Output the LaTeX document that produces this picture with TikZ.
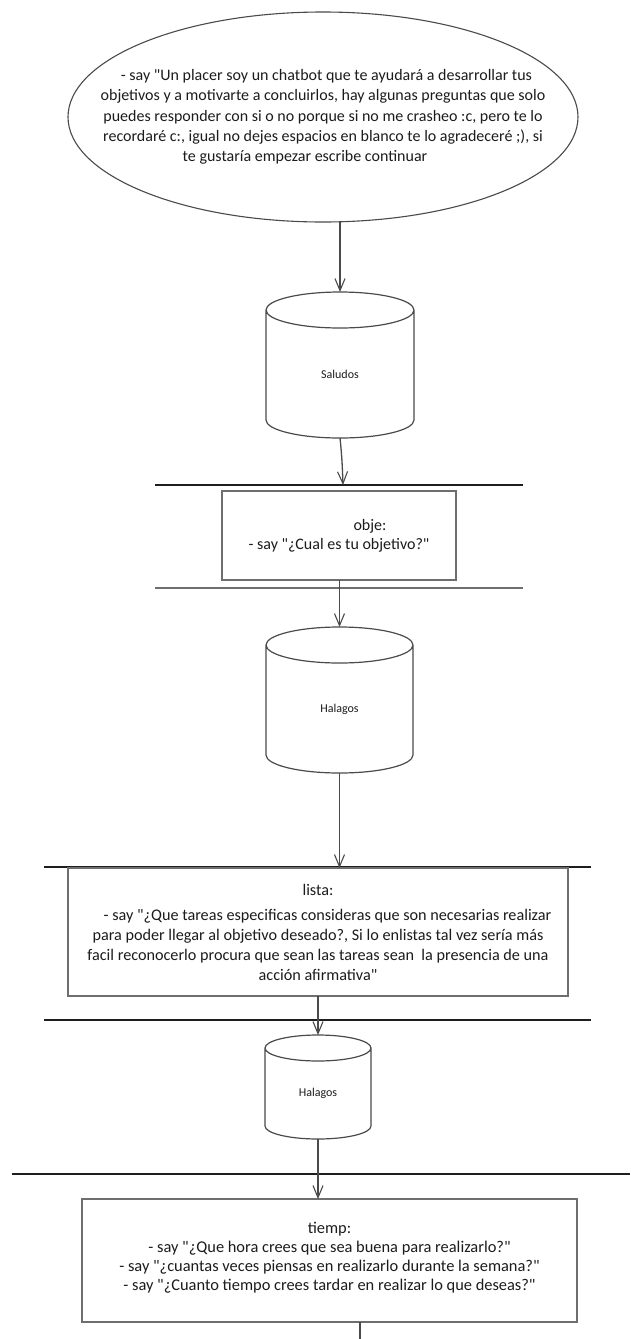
\documentclass[tikz,border=0pt]{standalone}
\usepackage{fontspec}
\setmainfont{Carlito}[Ligatures=TeXOff]
\usetikzlibrary{shapes.geometric,arrows.meta}

\definecolor{ink}{HTML}{1C1C1C}
\definecolor{edge}{HTML}{4A4A4A}
\definecolor{frame}{HTML}{6E6E6E}
\definecolor{rule}{HTML}{1E1E1E}

\newcommand\ovaltext{\fontsize{16}{20.3}\selectfont}
\newcommand\objetext{\fontsize{16}{19}\selectfont}
\newcommand\listtext{\fontsize{16.2}{20}\selectfont}
\newcommand\timetext{\fontsize{16.4}{19}\selectfont\lineskiplimit=-20pt}
\newcommand\drumtext{\fontsize{12}{14}\selectfont}

% drum shape: name, centre, width, height, cap radius, label
\newcommand\drawdrum[6]{%
  \node[minimum width=#3pt, minimum height=#4pt,
        label={[txt, font=\drumtext, yshift=-#5pt/2]center:#6}] (#1) at #2 {};
  \draw[drumline] ([yshift=-#5pt]#1.north west) -- ([yshift=#5pt]#1.south west)
    arc[start angle=180, end angle=360, x radius={#3*0.5pt}, y radius=#5pt]
    -- ([yshift=-#5pt]#1.north east)
    arc[start angle=0, end angle=360, x radius={#3*0.5pt}, y radius=#5pt];
}

\begin{document}
\begin{tikzpicture}[x=1pt, y=1pt,
  every node/.style={inner sep=0pt, outer sep=0pt},
  txt/.style={text=ink, align=center},
  bubble/.style={ellipse, draw=edge, line width=1.1pt,
                 minimum width=510pt, minimum height=210pt},
  stepbox/.style={draw=frame, line width=1.6pt, fill=white, txt},
  drumline/.style={draw=edge, line width=1.2pt},
  plain/.style={draw=edge, line width=1.3pt},
  flow/.style={plain, -{Straight Barb[length=12pt, width=10pt, line width=1.1pt]}},
  lane/.style={draw=rule, line width=1.2pt}
]
\fill[white] (0,0) rectangle (630,-1339);
\useasboundingbox (0,0) rectangle (630,-1339);

% lane separators
\coordinate (l1a) at (155,-485);  \coordinate (l1b) at (523,-485);
\coordinate (l2a) at (155,-588);  \coordinate (l2b) at (523,-588);
\coordinate (l3a) at (44,-867);   \coordinate (l3b) at (591,-867);
\coordinate (l4a) at (44,-1020);  \coordinate (l4b) at (591,-1020);
\coordinate (l5a) at (12,-1174);  \coordinate (l5b) at (630,-1174);
\draw[lane] (l1a) -- (l1b);
\draw[lane, draw=frame, line width=1.8pt] (l2a) -- (l2b);
\draw[lane] (l3a) -- (l3b);
\draw[lane] (l4a) -- (l4b);
\draw[lane] (l5a) -- (l5b);

% greeting
\node[bubble, label={[txt, font=\ovaltext, name=etext]center:{%
  \hspace*{7pt}- say "Un placer soy un chatbot que te ayudará a desarrollar tus\\
  objetivos y a motivarte a concluirlos, hay algunas preguntas que solo\\
  puedes responder con si o no porque si no me crasheo :c, pero te lo\\
  recordaré c:, igual no dejes espacios en blanco te lo agradeceré ;), si\\
  te gustaría empezar escribe continuar\hspace*{36pt}}}] (e) at (323,-117) {};

% drums
\drawdrum{c1}{(340,-365)}{148}{146}{18}{Saludos}
\drawdrum{c2}{(339.5,-700)}{147}{146}{18}{Halagos}
\drawdrum{c3}{(318,-1087)}{106}{104}{13}{Halagos}

% dialogue steps
\node[stepbox, minimum width=234pt, minimum height=89pt, font=\objetext]
  (obje) at (339,-535.5)
  {\hspace*{62pt}obje:\\- say "¿Cual es tu objetivo?"};

\node[stepbox, minimum width=500pt, minimum height=128pt, font=\listtext]
  (lista) at (318,-932)
  {lista:\\[5pt]
   \hspace*{19pt}- say "¿Que tareas especificas consideras que son necesarias realizar\\
   para poder llegar al objetivo deseado?, Si lo enlistas tal vez sería más\hspace*{8pt}\\
   facil reconocerlo procura que sean las tareas sean\ \ la presencia de una\hspace*{12pt}\\
   acción afirmativa"};

\node[stepbox, minimum width=495pt, minimum height=123pt,
      label={[txt, font=\timetext, yshift=3pt, name=ttext]center:{%
   tiemp:\\
   - say "¿Que hora crees que sea buena para realizarlo?"\hspace*{10pt}\\
   - say "¿cuantas veces piensas en realizarlo durante la semana?"\\
   - say "¿Cuanto tiempo crees tardar en realizar lo que deseas?"}}]
  (tiemp) at (329.5,-1260.5) {};

% connectors
\coordinate (t1) at (343,-485);
\coordinate (tail) at (360,-1339);
\draw[flow] (c1.north |- e.south) -- (c1.north);
\draw[flow] (c1.south) to[out=-84, in=92] (t1);
\draw[flow] (obje.south -| c2.north) -- (c2.north);
\draw[flow] (c2.south) -- (c2.south |- lista.north);
\draw[flow] (lista.south) -- (c3.north);
\draw[flow] (c3.south) -- (c3.south |- tiemp.north);
\draw[plain] (tiemp.south -| tail) -- (tail);
\end{tikzpicture}
\end{document}
